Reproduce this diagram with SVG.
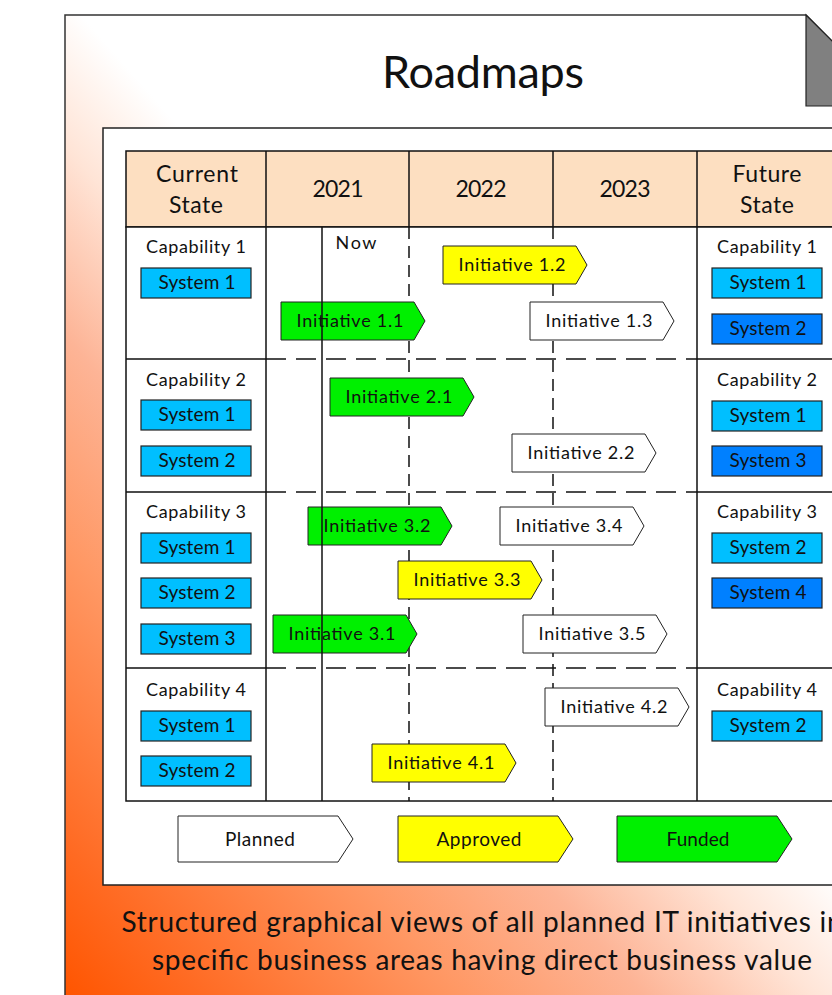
<svg xmlns="http://www.w3.org/2000/svg" width="832" height="995" viewBox="0 0 832 995">
  <defs>
    <linearGradient id="pageFill" gradientUnits="userSpaceOnUse" x1="65" y1="995" x2="560" y2="560">
      <stop offset="0" stop-color="#FF5500"/>
      <stop offset="0.15" stop-color="#FF6A22"/>
      <stop offset="0.45" stop-color="#FF9864"/>
      <stop offset="0.66" stop-color="#FDB496"/>
      <stop offset="0.85" stop-color="#FFE4D6"/>
      <stop offset="1" stop-color="#FFFFFF"/>
    </linearGradient>
    <!-- chevron used for initiatives -->
    <path id="chev" d="M0,0 H133 L144,19 L133,38 H0 Z"/>
    <!-- larger chevron used in the legend -->
    <path id="chevL" d="M0,0 H160 L175,23 L160,46 H0 Z"/>
  </defs>
  <style>
    .t{font-family:Lato,"Liberation Sans",sans-serif;fill:#111;text-anchor:middle}
    .title{font-size:45px}
    .hdr{font-size:23px}
    .cap{font-size:18px}
    .sysTxt{font-size:19px}
    .ini{font-size:18px}
    .leg{font-size:19px}
    .foot{font-size:28px}
    .box{stroke:#222;stroke-width:1.2}
    .sysL{fill:#00BFFF}
    .sysD{fill:#0080FF}
    .chev{stroke:#222;stroke-width:1}
    .planned{fill:#FFFFFF}
    .approved{fill:#FFFF00}
    .funded{fill:#00F000}
    .line{stroke:#111;stroke-width:1.5;fill:none}
    .dashH{stroke-dasharray:20 10}
    .dashV{stroke-dasharray:12 7}
    .hdrFill{fill:#FDDFC1;stroke:#111;stroke-width:1.5}
    .bodyFill{fill:#FFFFFF;stroke:#111;stroke-width:1.5}
  </style>

  <!-- page background with folded corner -->
  <g id="page">
    <path d="M65,1000 V15 H806 L900,109 V1000" fill="url(#pageFill)" stroke="#333" stroke-width="1.5"/>
    <polygon points="806,15 897,106 806,106" fill="#808080" stroke="#222" stroke-width="1.2"/>
    <text class="t title" x="483" y="88" textLength="202" lengthAdjust="spacing">Roadmaps</text>
  </g>

  <!-- white panel holding the roadmap table -->
  <g id="panel">
    <rect x="103" y="128" width="760" height="757" fill="#FFFFFF" stroke="#222" stroke-width="1.5"/>
  </g>

  <!-- table grid -->
  <g id="grid">
    <rect x="126" y="151" width="711" height="76" class="hdrFill"/>
    <rect x="126" y="227" width="711" height="574" class="bodyFill"/>
    <path class="line" d="M266,151 V801 M697,151 V801 M409,151 V227 M553,151 V227"/>
    <path class="line dashV" d="M409,227 V801 M553,227 V801"/>
    <path class="line" d="M126,359 H266 M697,359 H837 M126,492 H266 M697,492 H837 M126,668 H266 M697,668 H837"/>
    <path class="line dashH" d="M266,359 H697 M266,492 H697 M266,668 H697"/>
  </g>

  <!-- header labels -->
  <g id="header">
    <text class="t hdr" x="197" y="182" textLength="82" lengthAdjust="spacing">Current</text>
    <text class="t hdr" x="196" y="213" textLength="54" lengthAdjust="spacing">State</text>
    <text class="t hdr" x="338" y="197" textLength="51" lengthAdjust="spacing">2021</text>
    <text class="t hdr" x="481" y="197" textLength="51" lengthAdjust="spacing">2022</text>
    <text class="t hdr" x="625" y="197" textLength="51" lengthAdjust="spacing">2023</text>
    <text class="t hdr" x="767" y="182" textLength="69" lengthAdjust="spacing">Future</text>
    <text class="t hdr" x="767" y="213" textLength="54" lengthAdjust="spacing">State</text>
  </g>

  <!-- current state capabilities -->
  <g id="current-cap1">
    <text class="t cap" x="196" y="253" textLength="100" lengthAdjust="spacing">Capability 1</text>
    <rect class="box sysL" x="141" y="268" width="110" height="30"/>
    <text class="t sysTxt" x="197" y="289" textLength="77" lengthAdjust="spacing">System 1</text>
  </g>
  <g id="current-cap2">
    <text class="t cap" x="196" y="386" textLength="100" lengthAdjust="spacing">Capability 2</text>
    <rect class="box sysL" x="141" y="400" width="110" height="30"/>
    <text class="t sysTxt" x="197" y="421" textLength="77" lengthAdjust="spacing">System 1</text>
    <rect class="box sysL" x="141" y="446" width="110" height="30"/>
    <text class="t sysTxt" x="197" y="467" textLength="77" lengthAdjust="spacing">System 2</text>
  </g>
  <g id="current-cap3">
    <text class="t cap" x="196" y="518" textLength="100" lengthAdjust="spacing">Capability 3</text>
    <rect class="box sysL" x="141" y="533" width="110" height="30"/>
    <text class="t sysTxt" x="197" y="554" textLength="77" lengthAdjust="spacing">System 1</text>
    <rect class="box sysL" x="141" y="578" width="110" height="30"/>
    <text class="t sysTxt" x="197" y="599" textLength="77" lengthAdjust="spacing">System 2</text>
    <rect class="box sysL" x="141" y="624" width="110" height="30"/>
    <text class="t sysTxt" x="197" y="645" textLength="77" lengthAdjust="spacing">System 3</text>
  </g>
  <g id="current-cap4">
    <text class="t cap" x="196" y="696" textLength="100" lengthAdjust="spacing">Capability 4</text>
    <rect class="box sysL" x="141" y="711" width="110" height="30"/>
    <text class="t sysTxt" x="197" y="732" textLength="77" lengthAdjust="spacing">System 1</text>
    <rect class="box sysL" x="141" y="756" width="110" height="30"/>
    <text class="t sysTxt" x="197" y="777" textLength="77" lengthAdjust="spacing">System 2</text>
  </g>

  <!-- future state capabilities -->
  <g id="future-cap1">
    <text class="t cap" x="767" y="253" textLength="100" lengthAdjust="spacing">Capability 1</text>
    <rect class="box sysL" x="712" y="268" width="110" height="30"/>
    <text class="t sysTxt" x="768" y="289" textLength="77" lengthAdjust="spacing">System 1</text>
    <rect class="box sysD" x="712" y="314" width="110" height="30"/>
    <text class="t sysTxt" x="768" y="335" textLength="77" lengthAdjust="spacing">System 2</text>
  </g>
  <g id="future-cap2">
    <text class="t cap" x="767" y="386" textLength="100" lengthAdjust="spacing">Capability 2</text>
    <rect class="box sysL" x="712" y="401" width="110" height="30"/>
    <text class="t sysTxt" x="768" y="422" textLength="77" lengthAdjust="spacing">System 1</text>
    <rect class="box sysD" x="712" y="446" width="110" height="30"/>
    <text class="t sysTxt" x="768" y="467" textLength="77" lengthAdjust="spacing">System 3</text>
  </g>
  <g id="future-cap3">
    <text class="t cap" x="767" y="518" textLength="100" lengthAdjust="spacing">Capability 3</text>
    <rect class="box sysL" x="712" y="533" width="110" height="30"/>
    <text class="t sysTxt" x="768" y="554" textLength="77" lengthAdjust="spacing">System 2</text>
    <rect class="box sysD" x="712" y="578" width="110" height="30"/>
    <text class="t sysTxt" x="768" y="599" textLength="77" lengthAdjust="spacing">System 4</text>
  </g>
  <g id="future-cap4">
    <text class="t cap" x="767" y="696" textLength="100" lengthAdjust="spacing">Capability 4</text>
    <rect class="box sysL" x="712" y="711" width="110" height="30"/>
    <text class="t sysTxt" x="768" y="732" textLength="77" lengthAdjust="spacing">System 2</text>
  </g>

  <!-- initiatives -->
  <g id="init-1-2"><use href="#chev" x="443" y="246" class="chev approved"/><text class="t ini" x="512" y="271" textLength="107" lengthAdjust="spacing">Initiative 1.2</text></g>
  <g id="init-1-1"><use href="#chev" x="281" y="302" class="chev funded"/><text class="t ini" x="350" y="327" textLength="107" lengthAdjust="spacing">Initiative 1.1</text></g>
  <g id="init-1-3"><use href="#chev" x="530" y="302" class="chev planned"/><text class="t ini" x="599" y="327" textLength="107" lengthAdjust="spacing">Initiative 1.3</text></g>
  <g id="init-2-1"><use href="#chev" x="330" y="378" class="chev funded"/><text class="t ini" x="399" y="403" textLength="107" lengthAdjust="spacing">Initiative 2.1</text></g>
  <g id="init-2-2"><use href="#chev" x="512" y="434" class="chev planned"/><text class="t ini" x="581" y="459" textLength="107" lengthAdjust="spacing">Initiative 2.2</text></g>
  <g id="init-3-2"><use href="#chev" x="308" y="507" class="chev funded"/><text class="t ini" x="377" y="532" textLength="107" lengthAdjust="spacing">Initiative 3.2</text></g>
  <g id="init-3-4"><use href="#chev" x="500" y="507" class="chev planned"/><text class="t ini" x="569" y="532" textLength="107" lengthAdjust="spacing">Initiative 3.4</text></g>
  <g id="init-3-3"><use href="#chev" x="398" y="561" class="chev approved"/><text class="t ini" x="467" y="586" textLength="107" lengthAdjust="spacing">Initiative 3.3</text></g>
  <g id="init-3-1"><use href="#chev" x="273" y="615" class="chev funded"/><text class="t ini" x="342" y="640" textLength="107" lengthAdjust="spacing">Initiative 3.1</text></g>
  <g id="init-3-5"><use href="#chev" x="523" y="615" class="chev planned"/><text class="t ini" x="592" y="640" textLength="107" lengthAdjust="spacing">Initiative 3.5</text></g>
  <g id="init-4-2"><use href="#chev" x="545" y="688" class="chev planned"/><text class="t ini" x="614" y="713" textLength="107" lengthAdjust="spacing">Initiative 4.2</text></g>
  <g id="init-4-1"><use href="#chev" x="372" y="744" class="chev approved"/><text class="t ini" x="441" y="769" textLength="107" lengthAdjust="spacing">Initiative 4.1</text></g>

  <!-- current date marker, drawn over the initiatives -->
  <g id="now">
    <path class="line" d="M322,227 V801"/>
    <text class="t cap" x="356" y="249" textLength="41" lengthAdjust="spacing">Now</text>
  </g>

  <!-- legend -->
  <g id="legend-planned"><use href="#chevL" x="178" y="816" class="chev planned"/><text class="t leg" x="260" y="846" textLength="70" lengthAdjust="spacing">Planned</text></g>
  <g id="legend-approved"><use href="#chevL" x="398" y="816" class="chev approved"/><text class="t leg" x="479" y="846" textLength="85" lengthAdjust="spacing">Approved</text></g>
  <g id="legend-funded"><use href="#chevL" x="617" y="816" class="chev funded"/><text class="t leg" x="698" y="846" textLength="63" lengthAdjust="spacing">Funded</text></g>

  <!-- caption -->
  <g id="caption">
    <text class="t foot" x="482" y="932" textLength="721" lengthAdjust="spacing">Structured graphical views of all planned IT initiatives in</text>
    <text class="t foot" x="482" y="970" textLength="660" lengthAdjust="spacing">specific business areas having direct business value</text>
  </g>
</svg>
